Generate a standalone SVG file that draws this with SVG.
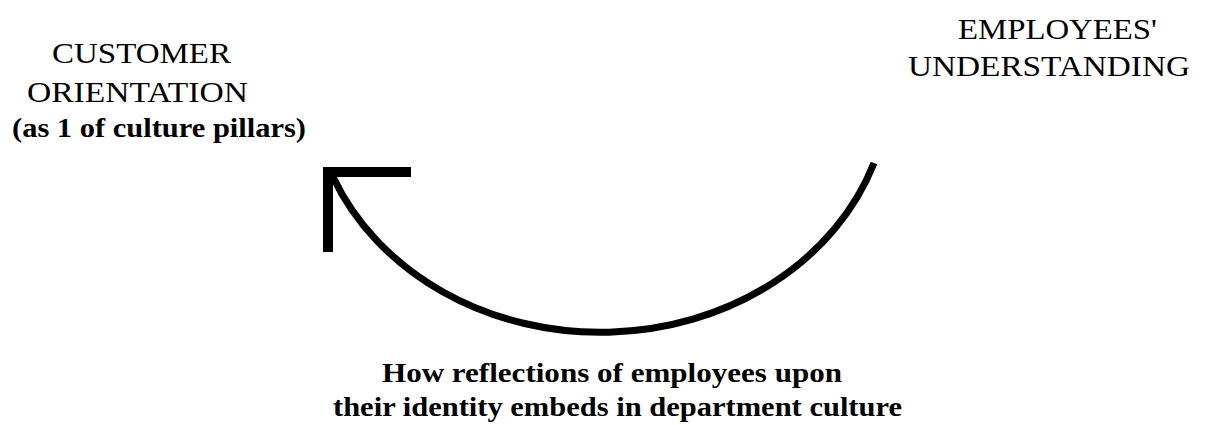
<svg xmlns="http://www.w3.org/2000/svg" width="1206" height="425" viewBox="0 0 1206 425">
  <style>
    .cap { font-family: "Liberation Serif", "Times New Roman", serif; font-size: 30px; fill: #000; }
    .bold { font-family: "Liberation Serif", "Times New Roman", serif; font-size: 27px; font-weight: bold; fill: #000; }
    .line { fill: none; stroke: #000; stroke-width: 7; }
    .head { fill: none; stroke: #000; stroke-width: 10; stroke-linejoin: miter; stroke-linecap: butt; }
  </style>
  <rect width="1206" height="425" fill="#fff"/>
  <g id="customer-orientation">
    <text class="cap" x="52" y="63" textLength="179" lengthAdjust="spacingAndGlyphs">CUSTOMER</text>
    <text class="cap" x="27" y="102" textLength="221" lengthAdjust="spacingAndGlyphs">ORIENTATION</text>
    <text class="bold" x="12" y="137" textLength="294" lengthAdjust="spacingAndGlyphs">(as 1 of culture pillars)</text>
  </g>
  <g id="employees-understanding">
    <text class="cap" x="958" y="39" textLength="199" lengthAdjust="spacingAndGlyphs">EMPLOYEES'</text>
    <text class="cap" x="908" y="76" textLength="282" lengthAdjust="spacingAndGlyphs">UNDERSTANDING</text>
  </g>
  <g id="reflection-label">
    <text class="bold" x="382" y="382" textLength="460" lengthAdjust="spacingAndGlyphs">How reflections of employees upon</text>
    <text class="bold" x="333" y="416" textLength="569" lengthAdjust="spacingAndGlyphs">their identity embeds in department culture</text>
  </g>
  <g id="connectors">
    <path class="line" d="M 874 163 A 289 250 0 0 1 333 177"/>
    <polyline class="head" points="411,172 328,172 328,252"/>
  </g>
</svg>
